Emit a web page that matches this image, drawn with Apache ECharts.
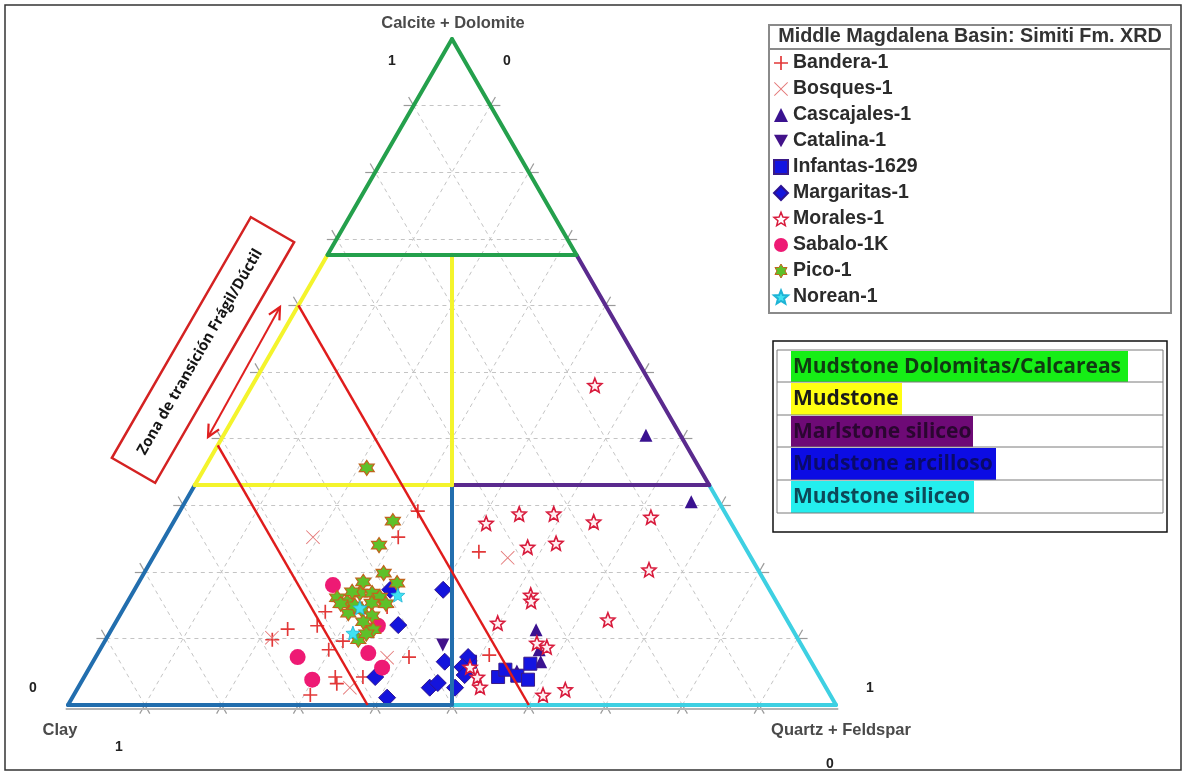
<!DOCTYPE html>
<html><head><meta charset="utf-8">
<script src="https://cdn.jsdelivr.net/npm/echarts@6.0.0/dist/echarts.min.js"></script>
<style>html,body{margin:0;padding:0;background:#fff}#c{width:1187px;height:773px}</style>
</head><body><div id="c"></div>
<script>
// Ternary compositions: [Quartz+Feldspar %, Calcite+Dolomite %]; Clay = 100 - both
const bandera = [[31.0,29.1],[30.4,25.2],[42.0,23.0],[51.1,7.5],[22.9,11.4],[26.5,11.9],[26.5,14.0],[29.8,8.3],[31.0,9.6],[32.7,4.2],[33.4,3.2],[30.8,1.5],[36.3,4.2],[34.2,14.7],[40.8,7.2],[21.7,9.8]];
const bosques = [[19.3,25.2],[21.5,10.1],[35.4,2.6],[38.0,7.1],[46.2,22.1]];
const cascajales = [[55.0,40.5],[65.9,30.5],[55.3,11.3],[57.2,8.3],[58.3,6.5],[55.9,5.1]];
const catalina = [[44.3,9.0]];
const infantas = [[53.9,4.2],[54.3,5.3],[56.3,4.4],[58.0,3.8],[57.1,6.2],[49.1,6.5]];
const margaritas = [[40.2,17.3],[33.3,17.3],[37.0,12.0],[37.9,4.2],[41.0,1.1],[45.8,2.6],[46.5,3.3],[45.8,6.5],[48.5,7.2],[48.5,5.7],[49.4,4.5],[49.1,2.6]];
const morales = [[44.6,48.0],[40.8,27.3],[44.4,28.7],[48.9,28.7],[54.7,27.5],[61.8,28.2],[48.0,23.7],[51.4,24.3],[65.5,20.3],[52.0,16.5],[52.5,15.6],[49.8,12.3],[56.4,9.3],[58.0,8.7],[49.5,5.7],[51.2,4.2],[52.3,2.7],[61.1,1.5],[63.6,2.3],[63.9,12.8]];
const sabalo = [[25.5,18.0],[26.3,7.2],[29.9,3.8],[35.2,7.8],[38.1,5.6],[34.4,11.9]];
const pico = [[21.1,35.6],[28.5,27.6],[28.5,24.0],[31.2,19.8],[33.7,18.3],[29.2,18.5],[27.0,16.1],[28.6,15.5],[29.6,16.8],[31.2,16.8],[32.5,16.2],[29.6,13.8],[31.1,14.3],[31.9,15.3],[32.9,13.4],[32.2,12.5],[34.1,11.3],[32.9,9.8],[33.5,10.7],[33.8,15.2],[29.9,14.9],[27.9,15.2],[28.5,17.0]];
const norean = [[34.7,16.5],[31.7,10.8],[30.7,14.6]];

const gridTicks = [10,20,30,40,50,60,70,80,90];
const carbLimits = [33, 67.6];   // Calcite+Dolomite class limits (%)
const clayLimits = [40, 61];     // brittle/ductile transition (Clay %)
const legendTitle = 'Middle Magdalena Basin: Simiti Fm. XRD';
const classNames = ['Mudstone Dolomitas/Calcareas','Mudstone','Marlstone siliceo','Mudstone arcilloso','Mudstone siliceo'];

const S = Math.sqrt(3)/2;
function tern(q, c){ return [q + c/2, c*S]; }

function starPath(n, R, r){
  let d = '';
  for (let i = 0; i < 2*n; i++){
    const a = -Math.PI/2 + i*Math.PI/n, rr = i%2 ? r : R;
    d += (i ? 'L' : 'M') + (5 + rr*Math.cos(a)).toFixed(2) + ',' + (5 + rr*Math.sin(a)).toFixed(2);
  }
  return 'path://' + d + 'Z';
}
const plusPath = 'path://M4.4,0H5.6V4.4H10V5.6H5.6V10H4.4V5.6H0V4.4H4.4Z';
const crossPath = 'path://M0.45,0L5,4.55L9.55,0L10,0.45L5.45,5L10,9.55L9.55,10L5,5.45L0.45,10L0,9.55L4.55,5L0,0.45Z';
const invTri = 'path://M0,0L10,0L5,9Z';
const star5 = starPath(5, 5, 2.2);
const star6 = starPath(6, 5, 2.9);

// grid lines and edge ticks
const gridSegs = [], tickSegs = [];
const E = 1.3;
gridTicks.forEach(t => {
  [[tern(0,t), tern(100-t,t)], [tern(t,0), tern(t,100-t)], [tern(100-t,0), tern(0,100-t)]].forEach(([p,q]) => {
    gridSegs.push({coords:[p,q]});
    const dx=q[0]-p[0], dy=q[1]-p[1], L=Math.hypot(dx,dy), ux=dx/L*E, uy=dy/L*E;
    tickSegs.push({coords:[p,[p[0]-ux,p[1]-uy]]});
    tickSegs.push({coords:[q,[q[0]+ux,q[1]+uy]]});
  });
});

const cLo = carbLimits[0], cHi = carbLimits[1];
const COL = {green:'#24a04c', yellow:'#f4f42c', purple:'#5a2a8e', blue:'#226eae', cyan:'#3ed0e2'};
function rs(a, b, color){ return {coords:[a,b], lineStyle:{color:color}}; }
const regionSegs = [
  rs(tern(0,0), tern(50,0), COL.blue),
  rs(tern(50,0), tern(100,0), COL.cyan),
  rs(tern(0,0), tern(0,cLo), COL.blue),
  rs(tern(100,0), tern(100-cLo,cLo), COL.cyan),
  rs(tern(50,0), tern(50-cLo/2,cLo), COL.blue),
  rs(tern(0,cLo), tern(0,cHi), COL.yellow),
  rs(tern(100-cLo,cLo), tern(100-cHi,cHi), COL.purple),
  rs(tern(50-cLo/2,cLo), tern(100-cLo,cLo), COL.purple),
  rs(tern(0,cLo), tern(50-cLo/2,cLo), COL.yellow),
  rs(tern(50-cLo/2,cLo), tern(50-cHi/2,cHi), COL.yellow),
  rs(tern(0,cHi), tern(0,100), COL.green),
  rs(tern(100-cHi,cHi), tern(0,100), COL.green),
  rs(tern(0,cHi), tern(100-cHi,cHi), COL.green)
];
const redSegs = clayLimits.map(k => ({coords:[tern(0,100-k), tern(100-k,0)]}));

function pts(arr){ return arr.map(p => tern(p[0], p[1])); }

const chart = echarts.init(document.getElementById('c'));
const txt = (text, x, y, font, fill, align) => ({type:'text', x:x, y:y, silent:true,
  style:{text:text, font:font, fill:fill||'#222', align:align||'center', textAlign:align||'center', verticalAlign:'middle', textVerticalAlign:'middle'}});

const rowY = [350, 382, 415, 447, 480, 513];
const hlW = [337, 111, 182, 205, 183];
const hlC = ['#16ee16','#ffff12','#6e0a76','#0c0ce4','#24eeee'];
const hlT = ['#103a12','#1a1a1a','#2a0630','#0a0a6a','#0d4858'];

const graphics = [
  {type:'rect', shape:{x:5,y:5,width:1176,height:765}, style:{fill:'none', stroke:'#333', lineWidth:1.5}, silent:true},
  {type:'rect', shape:{x:769,y:25,width:402,height:288}, style:{fill:'none', stroke:'#8a8a8a', lineWidth:2}, silent:true},
  {type:'line', shape:{x1:769,y1:49,x2:1171,y2:49}, style:{stroke:'#8a8a8a', lineWidth:2}, silent:true},
  txt(legendTitle, 970, 37, 'bold 19.8px "Liberation Sans", Arial', '#333'),
  {type:'rect', shape:{x:773,y:341,width:394,height:191}, style:{fill:'none', stroke:'#111', lineWidth:1.5}, silent:true}
];
classNames.forEach((n,i) => {
  graphics.push({type:'rect', shape:{x:791,y:rowY[i]+1,width:hlW[i],height:rowY[i+1]-rowY[i]-1}, style:{fill:hlC[i]}, silent:true});
});
rowY.forEach(y => graphics.push({type:'line', shape:{x1:777,y1:y,x2:1163,y2:y}, style:{stroke:'#7a7a7a', lineWidth:1}, silent:true}));
graphics.push({type:'line', shape:{x1:777,y1:350,x2:777,y2:513}, style:{stroke:'#7a7a7a', lineWidth:1}, silent:true});
graphics.push({type:'line', shape:{x1:1163,y1:350,x2:1163,y2:513}, style:{stroke:'#7a7a7a', lineWidth:1}, silent:true});
classNames.forEach((n,i) => {
  graphics.push(txt(n, 793, (rowY[i]+rowY[i+1])/2 + 1, 'bold 21px "Open Sans", sans-serif', hlT[i], 'left'));
});
// transition annotation
graphics.push({type:'rect', x:203, y:350, rotation:Math.PI/3, shape:{x:-139,y:-25,width:278,height:50}, style:{fill:'#fff', stroke:'#d42222', lineWidth:2.5}, silent:true, z:10});
graphics.push({type:'text', x:200, y:352, rotation:Math.PI/3, z:11, silent:true,
  style:{text:'Zona de transición Frágil/Dúctil', font:'bold 15px "Open Sans", sans-serif', fill:'#151515', align:'center', textAlign:'center', verticalAlign:'middle', textVerticalAlign:'middle'}});
graphics.push({type:'polyline', shape:{points:[[208,437],[280,307]]}, style:{stroke:'#e02020', lineWidth:2, fill:null}, silent:true, z:10});
graphics.push({type:'polyline', shape:{points:[[268.9,314.6],[280,307],[279.4,320.4]]}, style:{stroke:'#e02020', lineWidth:2.2, fill:null}, silent:true, z:10});
graphics.push({type:'polyline', shape:{points:[[219.1,429.4],[208,437],[208.6,423.6]]}, style:{stroke:'#e02020', lineWidth:2.2, fill:null}, silent:true, z:10});
// vertex labels
const LF = 'bold 16.5px "Liberation Sans", Arial';
const NF = 'bold 14px "Liberation Sans", Arial';
graphics.push(txt('Calcite + Dolomite', 453, 23, LF, '#4a4a4a'));
graphics.push(txt('1', 392, 61, NF, '#222'));
graphics.push(txt('0', 507, 61, NF, '#222'));
graphics.push(txt('0', 33, 688, NF, '#222'));
graphics.push(txt('1', 870, 688, NF, '#222'));
graphics.push(txt('Clay', 60, 730, LF, '#4a4a4a'));
graphics.push(txt('1', 119, 747, NF, '#222'));
graphics.push(txt('Quartz + Feldspar', 841, 730, LF, '#4a4a4a'));
graphics.push(txt('0', 830, 764, NF, '#222'));

function scat(name, arr, symbol, size, style){
  return {type:'scatter', name:name, data:pts(arr), symbol:symbol, symbolSize:size,
    itemStyle:Object.assign({opacity:1}, style), emphasis:{disabled:true}, z:3};
}

const series = [
  {type:'lines', name:'grid', coordinateSystem:'cartesian2d', clip:false, silent:true, z:1, data:gridSegs,
   lineStyle:{color:'#c4c4c4', width:1, type:[4,4], opacity:1}},
  {type:'lines', name:'ticks', coordinateSystem:'cartesian2d', clip:false, silent:true, z:1, data:tickSegs,
   lineStyle:{color:'#9a9a9a', width:1.2, opacity:1}},
  {type:'lines', name:'baseAxis', coordinateSystem:'cartesian2d', clip:false, silent:true, z:1,
   data:[{coords:[[-0.3,-0.5],[100.3,-0.5]]}], lineStyle:{color:'#b4b4b4', width:2, opacity:1}},
  scat('Bandera-1', bandera, plusPath, 14, {color:'#e23838'}),
  scat('Bosques-1', bosques, crossPath, 14, {color:'#e47a7a'}),
  scat('Cascajales-1', cascajales, 'triangle', 13, {color:'#3a1290'}),
  scat('Catalina-1', catalina, invTri, 13, {color:'#42128a'}),
  scat('Infantas-1629', infantas, 'rect', 13, {color:'#1414e2', borderColor:'#3a1a86', borderWidth:1}),
  scat('Margaritas-1', margaritas, 'diamond', 17, {color:'#1414dc', borderColor:'#2c1290', borderWidth:1}),
  scat('Morales-1', morales, star5, 14, {color:'#ffeef1', borderColor:'#d81b3c', borderWidth:1.6}),
  scat('Sabalo-1K', sabalo, 'circle', 16, {color:'#ee1a74'}),
  scat('Pico-1', pico, star6, 15, {color:'#5ec12a', borderColor:'#c0651c', borderWidth:1.2}),
  scat('Norean-1', norean, star5, 14, {color:'#40e2f2', borderColor:'#1eb4d6', borderWidth:0.8}),
  {type:'lines', name:'regions', coordinateSystem:'cartesian2d', clip:false, silent:true, z:4, data:regionSegs,
   lineStyle:{width:4, opacity:1, cap:'round'}},
  {type:'lines', name:'transition', coordinateSystem:'cartesian2d', clip:false, silent:true, z:5, data:redSegs,
   lineStyle:{color:'#e01c1c', width:2.5, opacity:1}}
];

const names = ['Bandera-1','Bosques-1','Cascajales-1','Catalina-1','Infantas-1629','Margaritas-1','Morales-1','Sabalo-1K','Pico-1','Norean-1'];

chart.setOption({
  animation:false,
  backgroundColor:'#fff',
  grid:{left:68, right:351, top:39, bottom:68, containLabel:false},
  xAxis:{type:'value', min:0, max:100, show:false},
  yAxis:{type:'value', min:0, max:100*S, show:false},
  legend:{orient:'vertical', left:768, top:45, itemWidth:14, itemHeight:14, itemGap:0, selectedMode:false,
    textStyle:{fontSize:19.5, fontWeight:'bold', color:'#2b2b2b', fontFamily:'"Liberation Sans", Arial', lineHeight:26},
    data:names.map(n => n === 'Morales-1' ? {name:n, itemStyle:{color:'#fff', borderColor:'#d81b3c', borderWidth:1.5}} :
                       n === 'Pico-1' ? {name:n, itemStyle:{color:'#5ec12a', borderColor:'#c0651c', borderWidth:1}} : n)},
  graphic:graphics,
  series:series
});
</script></body></html>
